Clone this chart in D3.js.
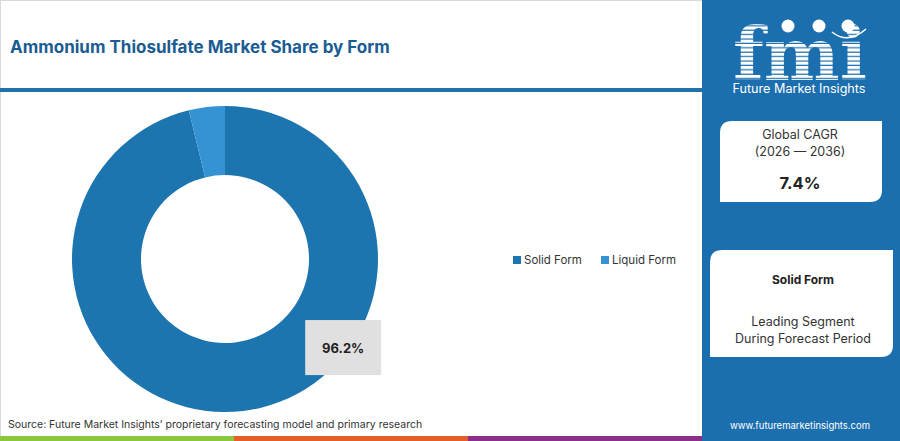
<!DOCTYPE html>
<html>
<head>
<meta charset="utf-8">
<script src="https://cdn.jsdelivr.net/npm/d3@7"></script>
<style>
  body { margin: 0; background: #fff; }
  svg { display: block; font-family: "Inter", "Open Sans", sans-serif; }
</style>
</head>
<body>
<div id="chart"></div>
<script>
// chart values
const forms = ["Solid Form", "Liquid Form"];
const shares = [96.2, 3.8];
const formColors = ["#1d75b0", "#3592d3"];
const titleText = "Ammonium Thiosulfate Market Share by Form";
const sourceText = "Source: Future Market Insights\u2019 proprietary forecasting model and primary research";
const cagrLines = ["Global CAGR", "(2026 \u2014 2036)"];
const cagrValue = "7.4%";
const leadSegment = "Solid Form";
const leadLines = ["Leading Segment", "During Forecast Period"];

const width = 900, height = 441;
const panelX = 702;
const panelBlue = "#1c6fae";

const svg = d3.select("#chart").append("svg")
  .attr("width", width).attr("height", height);

// outer frame of the chart area
svg.append("rect").attr("x", 0.5).attr("y", 0.5).attr("width", panelX).attr("height", height - 1)
  .attr("fill", "#fff").attr("stroke", "#d9d9d9");

// title
svg.append("text")
  .attr("x", 10).attr("y", 53)
  .attr("font-size", 17).attr("font-weight", 700)
  .attr("fill", "#1a5c93")
  .text(titleText);

svg.append("rect").attr("x", 0).attr("y", 88).attr("width", panelX).attr("height", 4)
  .attr("fill", "#2271aa");

// donut
const cx = 225, cy = 259, outerR = 153, innerR = 84;
const pie = d3.pie().sort(null).value(d => d);
const arc = d3.arc().innerRadius(innerR).outerRadius(outerR);
const g = svg.append("g").attr("transform", `translate(${cx},${cy})`);

g.selectAll("path").data(pie(shares)).enter().append("path")
  .attr("d", arc)
  .attr("fill", (d, i) => formColors[i]);

// value label box on the leading slice
const labelPos = d3.pointRadial(127 * Math.PI / 180, 148);
const lab = g.append("g").attr("transform", `translate(${labelPos[0]},${labelPos[1]})`);
lab.append("rect").attr("x", -38).attr("y", -28).attr("width", 76).attr("height", 55)
  .attr("fill", "#e0e0e0");
lab.append("text").attr("text-anchor", "middle").attr("dy", "0.35em")
  .attr("font-size", 13).attr("font-weight", 700).attr("fill", "#222")
  .text(d3.format(".1f")(shares[0]) + "%");

// legend
const legend = svg.append("g").attr("transform", "translate(513,256)");
const legendX = d3.scaleOrdinal().domain(forms).range([0, 88]);
const item = legend.selectAll("g").data(forms).enter().append("g")
  .attr("transform", d => `translate(${legendX(d)},0)`);
item.append("rect").attr("width", 8).attr("height", 8).attr("fill", (d, i) => formColors[i]);
item.append("text").attr("x", 11).attr("y", 4).attr("dy", "0.35em")
  .attr("font-size", 11.5).attr("fill", "#333").text(d => d);

// source
svg.append("text").attr("x", 8).attr("y", 428)
  .attr("font-size", 10.5).attr("fill", "#333").text(sourceText);

// bottom stripe
const stripeColors = ["#8cc63f", "#e65f2b", "#8a2f8c"];
const stripeX = d3.scaleBand().domain(d3.range(3)).range([0, panelX]);
svg.selectAll(".stripe").data(stripeColors).enter().append("rect")
  .attr("x", (d, i) => stripeX(i)).attr("y", 436)
  .attr("width", stripeX.bandwidth()).attr("height", 5)
  .attr("fill", d => d);

// right panel
svg.append("rect").attr("x", panelX).attr("y", 0).attr("width", width - panelX).attr("height", height)
  .attr("fill", panelBlue);

// logo: striped "fmi" (letters used as a clip for a striped block)
const defs = svg.append("defs");
const pat = defs.append("pattern").attr("id", "stripes").attr("patternUnits", "userSpaceOnUse")
  .attr("width", 10).attr("height", 4.4);
pat.append("rect").attr("width", 10).attr("height", 4.4).attr("fill", "#fff");
pat.append("rect").attr("y", 3.2).attr("width", 10).attr("height", 1.2).attr("fill", panelBlue);

defs.append("clipPath").attr("id", "logoClip")
  .append("text").attr("x", 800).attr("y", 80).attr("text-anchor", "middle")
  .attr("font-family", "DejaVu Serif").attr("font-weight", 700).attr("font-size", 72)
  .attr("textLength", 134).attr("lengthAdjust", "spacingAndGlyphs")
  .text("fmi");
svg.append("rect").attr("x", 725).attr("y", 10).attr("width", 150).attr("height", 71)
  .attr("fill", "url(#stripes)").attr("clip-path", "url(#logoClip)");

// globe icons over the letters
[[788, 26], [819, 26], [848, 26]].forEach(p => {
  svg.append("circle").attr("cx", p[0]).attr("cy", p[1]).attr("r", 6.5).attr("fill", "#fff");
});
svg.append("path").attr("d", "M832,32 Q848,45 866,29").attr("fill", "none")
  .attr("stroke", "#fff").attr("stroke-width", 1.5);

svg.append("text").attr("x", 799).attr("y", 93).attr("text-anchor", "middle")
  .attr("font-size", 12.5).attr("fill", "#fff")
  .attr("textLength", 133).attr("lengthAdjust", "spacingAndGlyphs")
  .text("Future Market Insights");

// CAGR card
function card(x, y, w, h, r) {
  return `M${x + r},${y} H${x + w} V${y + h - r} Q${x + w},${y + h} ${x + w - r},${y + h} H${x} V${y + r} Q${x},${y} ${x + r},${y} Z`;
}
svg.append("path").attr("d", card(720, 121, 162, 81, 12)).attr("fill", "#fff");
svg.selectAll(".cagr").data(cagrLines).enter().append("text")
  .attr("x", 800).attr("y", (d, i) => 139 + i * 17).attr("text-anchor", "middle")
  .attr("font-size", 12.5).attr("fill", "#333").text(d => d);
svg.append("text").attr("x", 800).attr("y", 189).attr("text-anchor", "middle")
  .attr("font-size", 16.5).attr("font-weight", 700).attr("fill", "#222").text(cagrValue);

// leading segment card
svg.append("path").attr("d", card(710, 250, 183, 107, 12)).attr("fill", "#fff");
svg.append("text").attr("x", 803).attr("y", 284).attr("text-anchor", "middle")
  .attr("font-size", 12).attr("font-weight", 700).attr("fill", "#222").text(leadSegment);
svg.selectAll(".lead").data(leadLines).enter().append("text")
  .attr("x", 803).attr("y", (d, i) => 326 + i * 17).attr("text-anchor", "middle")
  .attr("font-size", 12.5).attr("fill", "#333").text(d => d);

svg.append("text").attr("x", 800).attr("y", 429).attr("text-anchor", "middle")
  .attr("font-size", 9.5).attr("fill", "#fff").text("www.futuremarketinsights.com");
</script>
</body>
</html>
